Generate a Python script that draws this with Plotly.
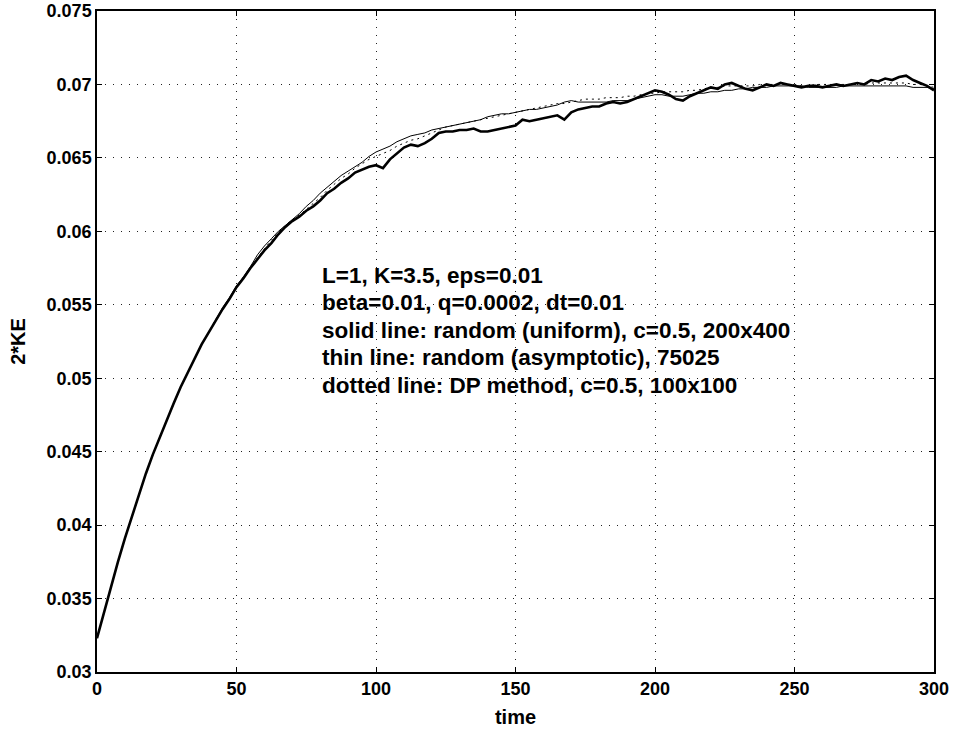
import plotly.graph_objects as go

TIME = [
    0, 2.5, 5, 7.5, 10, 12.5, 15, 17.5, 20, 22.5,
    25, 27.5, 30, 32.5, 35, 37.5, 40, 42.5, 45, 47.5,
    50, 52.5, 55, 57.5, 60, 62.5, 65, 67.5, 70, 72.5,
    75, 77.5, 80, 82.5, 85, 87.5, 90, 92.5, 95, 97.5,
    100, 102.5, 105, 107.5, 110, 112.5, 115, 117.5, 120, 122.5,
    125, 127.5, 130, 132.5, 135, 137.5, 140, 142.5, 145, 147.5,
    150, 152.5, 155, 157.5, 160, 162.5, 165, 167.5, 170, 172.5,
    175, 177.5, 180, 182.5, 185, 187.5, 190, 192.5, 195, 197.5,
    200, 202.5, 205, 207.5, 210, 212.5, 215, 217.5, 220, 222.5,
    225, 227.5, 230, 232.5, 235, 237.5, 240, 242.5, 245, 247.5,
    250, 252.5, 255, 257.5, 260, 262.5, 265, 267.5, 270, 272.5,
    275, 277.5, 280, 282.5, 285, 287.5, 290, 292.5, 295, 297.5,
    300,
]

# solid (thick) line: random (uniform), c=0.5, 200x400
KE_UNIFORM = [
    0.0323, 0.0341, 0.0358, 0.0375, 0.0391, 0.0406, 0.0421, 0.0435, 0.0448, 0.0460,
    0.0472, 0.0483, 0.0494, 0.0504, 0.0514, 0.0523, 0.0531, 0.0539, 0.0547, 0.0554,
    0.0562, 0.0568, 0.0575, 0.0581, 0.0587, 0.0592, 0.0598, 0.0603, 0.0607, 0.0610,
    0.0614, 0.0617, 0.0621, 0.0626, 0.0629, 0.0633, 0.0636, 0.0640, 0.0642, 0.0644,
    0.0645, 0.0643, 0.0649, 0.0653, 0.0657, 0.0659, 0.0658, 0.0660, 0.0663, 0.0667,
    0.0668, 0.0668, 0.0669, 0.0669, 0.0670, 0.0668, 0.0668, 0.0669, 0.0670, 0.0671,
    0.0672, 0.0676, 0.0675, 0.0676, 0.0677, 0.0678, 0.0679, 0.0676, 0.0681, 0.0683,
    0.0684, 0.0685, 0.0685, 0.0687, 0.0688, 0.0687, 0.0688, 0.0690, 0.0692, 0.0694,
    0.0696, 0.0695, 0.0693, 0.0690, 0.0689, 0.0692, 0.0694, 0.0696, 0.0698, 0.0697,
    0.0700, 0.0701, 0.0699, 0.0697, 0.0696, 0.0698, 0.0700, 0.0699, 0.0701, 0.0700,
    0.0699, 0.0698, 0.0699, 0.0699, 0.0698, 0.0699, 0.0700, 0.0699, 0.0700, 0.0701,
    0.0700, 0.0703, 0.0702, 0.0704, 0.0703, 0.0705, 0.0706, 0.0703, 0.0701, 0.0699,
    0.0696,
]

# thin line: random (asymptotic), 75025
KE_ASYMPTOTIC = [
    0.0323, 0.0341, 0.0358, 0.0375, 0.0391, 0.0406, 0.0421, 0.0435, 0.0448, 0.0460,
    0.0472, 0.0483, 0.0494, 0.0504, 0.0514, 0.0523, 0.0531, 0.0540, 0.0548, 0.0555,
    0.0563, 0.0569, 0.0576, 0.0584, 0.0590, 0.0595, 0.0600, 0.0604, 0.0608, 0.0612,
    0.0617, 0.0621, 0.0626, 0.0630, 0.0634, 0.0638, 0.0641, 0.0644, 0.0647, 0.0651,
    0.0654, 0.0656, 0.0658, 0.0661, 0.0663, 0.0665, 0.0666, 0.0667, 0.0669, 0.0670,
    0.0671, 0.0672, 0.0673, 0.0674, 0.0675, 0.0676, 0.0678, 0.0679, 0.0680, 0.0680,
    0.0681, 0.0682, 0.0683, 0.0683, 0.0684, 0.0685, 0.0686, 0.0688, 0.0689, 0.0688,
    0.0688, 0.0688, 0.0688, 0.0688, 0.0689, 0.0689, 0.0689, 0.0690, 0.0691, 0.0692,
    0.0693, 0.0693, 0.0692, 0.0692, 0.0692, 0.0693, 0.0694, 0.0694, 0.0695, 0.0695,
    0.0696, 0.0696, 0.0697, 0.0697, 0.0698, 0.0698, 0.0698, 0.0699, 0.0699, 0.0699,
    0.0699, 0.0699, 0.0698, 0.0698, 0.0698, 0.0698, 0.0698, 0.0699, 0.0699, 0.0699,
    0.0699, 0.0699, 0.0699, 0.0699, 0.0699, 0.0699, 0.0699, 0.0698, 0.0698, 0.0698,
    0.0697,
]

# dotted line: DP method, c=0.5, 100x100
KE_DP = [
    0.0323, 0.0341, 0.0358, 0.0375, 0.0391, 0.0406, 0.0421, 0.0435, 0.0448, 0.0460,
    0.0472, 0.0483, 0.0494, 0.0504, 0.0514, 0.0523, 0.0531, 0.0540, 0.0547, 0.0555,
    0.0562, 0.0569, 0.0575, 0.0582, 0.0588, 0.0594, 0.0599, 0.0604, 0.0608, 0.0611,
    0.0615, 0.0619, 0.0623, 0.0628, 0.0632, 0.0636, 0.0639, 0.0643, 0.0646, 0.0649,
    0.0651, 0.0653, 0.0655, 0.0658, 0.0660, 0.0662, 0.0663, 0.0665, 0.0667, 0.0669,
    0.0671, 0.0672, 0.0673, 0.0674, 0.0675, 0.0676, 0.0677, 0.0678, 0.0679, 0.0680,
    0.0681, 0.0682, 0.0683, 0.0684, 0.0685, 0.0686, 0.0687, 0.0687, 0.0688, 0.0689,
    0.0690, 0.0690, 0.0690, 0.0691, 0.0691, 0.0691, 0.0692, 0.0692, 0.0693, 0.0694,
    0.0694, 0.0695, 0.0695, 0.0695, 0.0695, 0.0696, 0.0696, 0.0697, 0.0698, 0.0698,
    0.0699, 0.0699, 0.0699, 0.0699, 0.0699, 0.0700, 0.0700, 0.0700, 0.0700, 0.0700,
    0.0700, 0.0699, 0.0699, 0.0700, 0.0700, 0.0700, 0.0700, 0.0700, 0.0700, 0.0700,
    0.0700, 0.0701, 0.0701, 0.0701, 0.0701, 0.0701, 0.0701, 0.0700, 0.0700, 0.0699,
    0.0698,
]

X_TICKS = [0, 50, 100, 150, 200, 250, 300]
X_TICK_LABELS = ["0", "50", "100", "150", "200", "250", "300"]
Y_TICKS = [0.03, 0.035, 0.04, 0.045, 0.05, 0.055, 0.06, 0.065, 0.07, 0.075]
Y_TICK_LABELS = ["0.03", "0.035", "0.04", "0.045", "0.05", "0.055", "0.06", "0.065", "0.07", "0.075"]

INFO_LINES = [
    "L=1, K=3.5, eps=0.01",
    "beta=0.01, q=0.0002, dt=0.01",
    "solid line: random (uniform), c=0.5, 200x400",
    "thin line: random (asymptotic), 75025",
    "dotted line: DP method, c=0.5, 100x100",
]

FONT = "Liberation Sans, Arial, Helvetica, sans-serif"

fig = go.Figure()
fig.add_trace(go.Scatter(x=TIME, y=KE_DP, mode="lines",
                         line=dict(color="black", width=1, dash="2px,4px"),
                         name="DP"))
fig.add_trace(go.Scatter(x=TIME, y=KE_ASYMPTOTIC, mode="lines",
                         line=dict(color="black", width=1),
                         name="asymptotic"))
fig.add_trace(go.Scatter(x=TIME, y=KE_UNIFORM, mode="lines",
                         line=dict(color="black", width=2.6),
                         name="uniform"))

axis_common = dict(
    showline=True, linecolor="black", linewidth=1.5, mirror="ticks",
    ticks="inside", ticklen=5, tickwidth=1, tickcolor="black",
    showgrid=True, gridcolor="#222", gridwidth=1, griddash="1px,7px",
    zeroline=False, automargin=False,
    tickfont=dict(family=FONT, size=18, color="black", weight="bold"),
)

fig.update_xaxes(range=[0, 300], tickmode="array", tickvals=X_TICKS, ticktext=X_TICK_LABELS,
                 title=dict(text="time", font=dict(family=FONT, size=20, color="black", weight="bold"),
                            standoff=12),
                 **axis_common)
fig.update_yaxes(range=[0.03, 0.075], tickmode="array", tickvals=Y_TICKS, ticktext=Y_TICK_LABELS,
                 title=dict(text="2*KE", font=dict(family=FONT, size=20, color="black", weight="bold"),
                            standoff=16),
                 **axis_common)

# text block: one annotation per line, 27.5 px apart, first line centred ~275 px from top
top_px, step_px, plot_top, plot_h = 275.0, 27.5, 11.0, 661.0
for i, line in enumerate(INFO_LINES):
    yc = top_px + i * step_px
    fig.add_annotation(
        xref="paper", yref="paper", x=0.2664, y=1 - (yc - plot_top) / plot_h,
        xanchor="left", yanchor="middle",
        text=line, showarrow=False, align="left",
        font=dict(family=FONT, size=22.5, color="black", weight="bold"),
    )

fig.update_layout(
    width=953, height=731,
    margin=dict(l=97, r=19, t=11, b=59),
    paper_bgcolor="white", plot_bgcolor="white",
    showlegend=False,
)

fig.write_html("out.html")
